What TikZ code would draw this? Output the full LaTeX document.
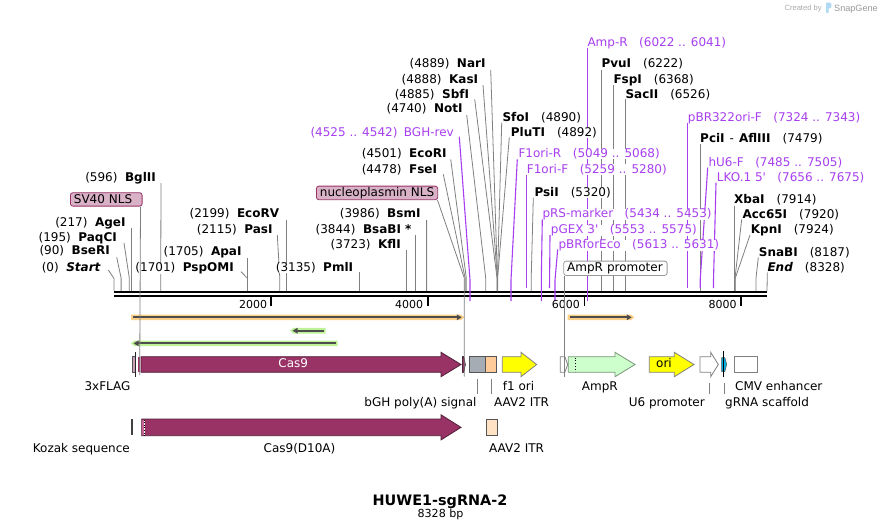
\documentclass[tikz,border=0pt]{standalone}
\usepackage{fontspec}
\setmainfont{DejaVu Sans}[ItalicFont={DejaVu Sans Oblique},BoldItalicFont={DejaVu Sans Bold Oblique}]
\newfontfamily\lsans{Liberation Sans}
\usetikzlibrary{arrows.meta}
\pgfdeclarelayer{bgwhite}
\pgfdeclarelayer{lines}
\pgfsetlayers{bgwhite,lines,main}
\definecolor{enzline}{RGB}{128,128,128}
\definecolor{primer}{RGB}{167,63,240}
\definecolor{nlsfill}{RGB}{217,178,199}
\definecolor{nlsdraw}{RGB}{153,51,102}
\definecolor{casfill}{RGB}{153,51,102}
\definecolor{casdraw}{RGB}{80,30,55}
\definecolor{caslight}{RGB}{200,100,150}
\definecolor{flagfill}{RGB}{201,160,184}
\definecolor{bghfill}{RGB}{166,172,179}
\definecolor{itrfill}{RGB}{255,204,153}
\definecolor{itrfillb}{RGB}{255,226,196}
\definecolor{orifill}{RGB}{255,255,0}
\definecolor{ampfill}{RGB}{204,255,204}
\definecolor{ampdraw}{RGB}{120,150,120}
\definecolor{gfill}{RGB}{0,176,230}
\definecolor{orfo}{RGB}{251,207,135}
\definecolor{orfg}{RGB}{190,242,150}
\definecolor{orfline}{RGB}{77,77,77}
\definecolor{featdraw}{RGB}{85,85,85}
\definecolor{snap}{RGB}{170,170,170}
\definecolor{snapblue}{RGB}{175,218,242}
\newcommand\featarrow[7]{\filldraw[#1] (#2,#5) -- (#3,#5) -- (#3,#5-#7) -- (#4,{(#5+#6)/2}) -- (#3,#6+#7) -- (#3,#6) -- (#2,#6) -- cycle;}
\newcommand\orfR[4]{%
 \fill[#1] (#2,#4-2.8) -- (#3-3.5,#4-2.8) -- (#3,#4) -- (#3-3.5,#4+2.8) -- (#2,#4+2.8) -- cycle;
 \draw[orfline, line width=1.7pt, -{Triangle[length=5pt,width=5.5pt]}] (#2+2,#4) -- (#3-2.5,#4);}
\newcommand\orfL[4]{%
 \fill[#1] (#3,#4-2.8) -- (#2+3.5,#4-2.8) -- (#2,#4) -- (#2+3.5,#4+2.8) -- (#3,#4+2.8) -- cycle;
 \draw[orfline, line width=1.7pt, -{Triangle[length=5pt,width=5.5pt]}] (#3-2,#4) -- (#2+2.5,#4);}
\tikzset{
 lab/.style={font=\fontsize{12}{14}\selectfont, inner sep=0pt},
 elab/.style={lab, fill=white},
 plab/.style={lab, fill=white, text=primer},
 enz/.style={draw=enzline, line width=0.8pt},
 prim/.style={draw=primer, line width=1.1pt},
 conn/.style={draw=enzline, line width=0.8pt},
 lbox/.style={lab, draw=nlsdraw, fill=nlsfill, rounded corners=2.5pt, inner xsep=3.5pt, inner ysep=0pt, align=left, anchor=north west, line width=0.8pt},
 tick/.style={font=\fontsize{11}{13}\selectfont, inner sep=0pt, anchor=base east},
}
\begin{document}
\begin{tikzpicture}[x=1pt,y=-1pt]
\useasboundingbox (0,0) rectangle (882,530);
\begin{pgfonlayer}{bgwhite}
\fill[white] (0,0) rectangle (882,530);
\end{pgfonlayer}

% ---------- enzyme labels (number left) ----------
\node[elab,anchor=base east] (start) at (101,271.7) {(0)\hspace{7.5pt}\textbf{\textit{Start}}};
\node[elab,anchor=base east] (bseri) at (110,254.4) {(90)\hspace{7.5pt}\textbf{BseRI}};
\node[elab,anchor=base east] (paqci) at (117,241.1) {(195)\hspace{7.5pt}\textbf{PaqCI}};
\node[elab,anchor=base east] (agei) at (125.7,226.4) {(217)\hspace{7.5pt}\textbf{AgeI}};
\node[elab,anchor=base east] (bglii) at (156,181.1) {(596)\hspace{7.5pt}\textbf{BglII}};
\node[elab,anchor=base east] (pspomi) at (234,271.7) {(1701)\hspace{7.5pt}\textbf{PspOMI}};
\node[elab,anchor=base east] (apai) at (241.7,255.1) {(1705)\hspace{7.5pt}\textbf{ApaI}};
\node[elab,anchor=base east] (pasi) at (272.7,233.7) {(2115)\hspace{7.5pt}\textbf{PasI}};
\node[elab,anchor=base east] (ecorv) at (279.3,217.7) {(2199)\hspace{7.5pt}\textbf{EcoRV}};
\node[elab,anchor=base east] (pmli) at (353.3,271.7) {(3135)\hspace{7.5pt}\textbf{PmlI}};
\node[elab,anchor=base east] (kfli) at (401,248.7) {(3723)\hspace{7.5pt}\textbf{KflI}};
\node[elab,anchor=base east] (bsabi) at (411.7,233.7) {(3844)\hspace{7.5pt}\textbf{BsaBI *}};
\node[elab,anchor=base east] (bsmi) at (420.7,217.7) {(3986)\hspace{7.5pt}\textbf{BsmI}};
\node[elab,anchor=base east] (fsei) at (437.3,173.4) {(4478)\hspace{7.5pt}\textbf{FseI}};
\node[elab,anchor=base east] (ecori) at (446.7,157.7) {(4501)\hspace{7.5pt}\textbf{EcoRI}};
\node[elab,anchor=base east] (noti) at (462.7,112.7) {(4740)\hspace{7.5pt}\textbf{NotI}};
\node[elab,anchor=base east] (sbfi) at (469.3,98.7) {(4885)\hspace{7.5pt}\textbf{SbfI}};
\node[elab,anchor=base east] (kasi) at (478.3,83.4) {(4888)\hspace{7.5pt}\textbf{KasI}};
\node[elab,anchor=base east] (nari) at (485.7,67.7) {(4889)\hspace{7.5pt}\textbf{NarI}};
% ---------- enzyme labels (name left) ----------
\node[elab,anchor=base west] (sfoi) at (502.3,121.1) {\textbf{SfoI}\hspace{12pt}(4890)};
\node[elab,anchor=base west] (pluti) at (510.7,136.1) {\textbf{PluTI}\hspace{12pt}(4892)};
\node[elab,anchor=base west] (psii) at (534.3,196.1) {\textbf{PsiI}\hspace{12pt}(5320)};
\node[elab,anchor=base west] (pvui) at (601.3,67.7) {\textbf{PvuI}\hspace{12pt}(6222)};
\node[elab,anchor=base west] (fspi) at (613.3,83.4) {\textbf{FspI}\hspace{12pt}(6368)};
\node[elab,anchor=base west] (sacii) at (625.3,98.7) {\textbf{SacII}\hspace{12pt}(6526)};
\node[elab,anchor=base west] (pcii) at (700,142.7) {\textbf{PciI}\hspace{5pt}-\hspace{5pt}\textbf{AflIII}\hspace{12pt}(7479)};
\node[elab,anchor=base west] (xbai) at (734,203.4) {\textbf{XbaI}\hspace{12pt}(7914)};
\node[elab,anchor=base west] (acc) at (742.3,218.4) {\textbf{Acc65I}\hspace{12pt}(7920)};
\node[elab,anchor=base west] (kpni) at (750.7,233.4) {\textbf{KpnI}\hspace{12pt}(7924)};
\node[elab,anchor=base west] (snabi) at (758.7,256.1) {\textbf{SnaBI}\hspace{12pt}(8187)};
\node[elab,anchor=base west] (endl) at (767.3,271.1) {\textbf{\textit{End}}\hspace{12pt}(8328)};
% ---------- primer labels ----------
\node[plab,anchor=base east] (bghrev) at (454,136.1) {(4525 .. 4542)\hspace{6.5pt}BGH-rev};
\node[plab,anchor=base west] (f1r) at (518.3,157.7) {F1ori-R\hspace{11.5pt}(5049 .. 5068)};
\node[plab,anchor=base west] (f1f) at (526.7,173.4) {F1ori-F\hspace{11.5pt}(5259 .. 5280)};
\node[plab,anchor=base west] (prs) at (542.3,217.7) {pRS-marker\hspace{11.5pt}(5434 .. 5453)};
\node[plab,anchor=base west] (pgex) at (550.7,233.7) {pGEX 3\textquotesingle\hspace{11.5pt}(5553 .. 5575)};
\node[plab,anchor=base west] (pbrfor) at (558.3,248.7) {pBRforEco\hspace{11.5pt}(5613 .. 5631)};
\node[plab,anchor=base west] (ampr) at (587.3,46.1) {Amp-R\hspace{11.5pt}(6022 .. 6041)};
\node[plab,anchor=base west] (pbr322) at (687.7,121.1) {pBR322ori-F\hspace{11.5pt}(7324 .. 7343)};
\node[plab,anchor=base west] (hu6f) at (708.3,166.1) {hU6-F\hspace{11.5pt}(7485 .. 7505)};
\node[plab,anchor=base west] (lko) at (716.7,181.1) {LKO.1 5\textquotesingle\hspace{11.5pt}(7656 .. 7675)};

% ---------- feature boxes above ----------
\node[lbox, text width=64.7pt, minimum height=13.4pt] (sv40) at (70,192.3) {\mbox{SV40 NLS}};
\node[lbox, text width=114.3pt, minimum height=13.6pt] (nls) at (316,185.7) {\mbox{nucleoplasmin NLS}};
\node[lbox, draw=gray!80, fill=white, text width=96.4pt, minimum height=14.3pt] (amppro) at (563.3,260.7) {\mbox{AmpR promoter}};

% ---------- backbone, ticks, lines ----------
\begin{pgfonlayer}{lines}
\draw[line width=2.6pt] (114,292) -- (767,292);
\draw[line width=2.6pt] (114,295.8) -- (767,295.8);
\foreach \tx in {270.8,427.6,584.5,741.3} \draw[line width=1.8pt] (\tx,297) -- (\tx,305.5);
\draw[enz] (start.base east) ++(7.3,-1.7) -- (114,278.5) -- (114,291);
\draw[enz] (bseri.base east) ++(6.7,2.9) -- (121.1,278) -- (121.1,291);
\draw[enz] (paqci.base east) ++(7,1.9) -- (129.3,278) -- (129.3,291);
\draw[enz] (agei.base east) ++(5.3,1.6) -- (131,291);
\draw[enz] (bglii.base east) ++(5,1.9) -- (160.7,291);
\draw[enz] (pspomi.base east) ++(7,0) -- (247.4,278.3) -- (247.4,291);
\draw[enz] (apai.base east) ++(6,3.2) -- (247.7,291);
\draw[enz] (pasi.base east) ++(4.6,1.3) -- (279.8,278) -- (279.8,291);
\draw[enz] (ecorv.base east) ++(7.1,2.3) -- (286.4,291);
\draw[enz] (pmli.base east) ++(6.5,0.6) -- (359.8,291);
\draw[enz] (kfli.base east) ++(4.9,1.3) -- (405.9,291);
\draw[enz] (bsabi.base east) ++(3.7,1.3) -- (415.4,291);
\draw[enz] (bsmi.base east) ++(5.9,2.3) -- (426.6,291);
\draw[enz] (fsei.base east) ++(6,0.9) -- (465.1,278) -- (465.1,291);
\draw[enz] (ecori.base east) ++(4,1.6) -- (466.3,278) -- (466.3,291);
\draw[enz] (noti.base east) ++(4,2.3) -- (485.7,278) -- (485.7,291);
\draw[enz] (sbfi.base east) ++(5.4,0.6) -- (497,278) -- (497,291);
\draw[enz] (kasi.base east) ++(4.7,1.6) -- (497.3,278) -- (497.3,291);
\draw[enz] (nari.base east) ++(5,2.3) -- (497.4,278) -- (497.4,291);
\draw[enz] (sfoi.base west) ++(-0.6,1.6) -- (497.5,278) -- (497.5,291);
\draw[enz] (pluti.base west) ++(-1.4,1.2) -- (497.6,278) -- (497.6,291);
\draw[enz] (psii.base west) ++(-1,1.6) -- (531.2,278) -- (531.2,291);
\draw[enz] (pvui.base west) ++(0.2,2.3) -- (601.5,291);
\draw[enz] (fspi.base west) ++(0,1.6) -- (613.3,291);
\draw[enz] (sacii.base west) ++(0.2,0.6) -- (625.5,291);
\draw[enz] (pcii.base west) ++(0.4,1.6) -- (700.4,291);
\draw[enz] (xbai.base west) ++(0.4,2.3) -- (734.4,291);
\draw[enz] (acc.base west) ++(-0.6,0.9) -- (735,278) -- (735,291);
\draw[enz] (kpni.base west) ++(-0.7,1.6) -- (735.3,278) -- (735.3,291);
\draw[enz] (snabi.base west) ++(-0.4,1.2) -- (756,278) -- (756,291);
\draw[enz] (endl.base west) ++(0,1.2) -- (767,291);
% primers
\draw[prim] (bghrev.base east) ++(5.3,0.6) -- (470,280) -- (470,301);
\draw[prim] (f1r.base west) ++(-1,1.6) -- (511,280) -- (511,301);
\draw[prim] (f1f.base west) ++(0,1.6) -- (526.7,288);
\draw[prim] (prs.base west) ++(0,1.6) -- (541.3,280) -- (541.3,301);
\draw[prim] (pgex.base west) ++(-0.7,1.3) -- (549.5,288);
\draw[prim] (pbrfor.base west) ++(-0.6,0.6) -- (555,280) -- (555,301);
\draw[prim] (ampr.base west) ++(0,1.6) -- (587.3,301);
\draw[prim] (pbr322.base west) ++(0,1.6) -- (687.7,288);
\draw[prim] (hu6f.base west) ++(-0.6,1.6) -- (700.2,280) -- (700.2,288);
\draw[prim] (lko.base west) ++(-0.7,1.6) -- (713.5,280) -- (713.5,288);
\end{pgfonlayer}

% tick labels
\node[tick] (t2) at (267.3,308) {2000};
\node[tick] (t4) at (423.3,308) {4000};
\node[tick] (t6) at (580,308) {6000};
\node[tick] (t8) at (736.8,308) {8000};

% ---------- ORFs ----------
\orfR{orfo}{131}{464.3}{317.3}
\orfR{orfo}{567.7}{634.3}{317.3}
\orfL{orfg}{290}{325.7}{330.7}
\orfL{orfg}{131}{337.7}{343.3}

% ---------- features row 1 ----------
\filldraw[fill=flagfill, draw=featdraw, line width=0.7pt] (132.3,356.7) rectangle (135.3,372.3);
\fill[casfill] (137.8,356.7) rectangle (140.2,371.7);
\draw[line width=0.9pt, black!85] (135.9,352.3) -- (135.9,376.7);
\featarrow{fill=casfill,draw=casdraw,line width=0.8pt}{141}{441}{461}{356.7}{372.3}{4.4}
\node[lab, text=white, anchor=base] (cas9) at (293.3,367.7) {Cas9};
\filldraw[fill=casfill, draw=black, line width=0.6pt] (462.3,356.7) -- (463.8,356.7) -- (465.3,364.5) -- (463.8,372.3) -- (462.3,372.3) -- cycle;
\filldraw[fill=bghfill, draw=featdraw, line width=0.8pt] (469.3,356.7) rectangle (485.7,372.3);
\filldraw[fill=itrfill, draw=featdraw, line width=0.8pt] (485.7,356.7) rectangle (496.7,372.3);
\featarrow{fill=orifill,draw=gray,line width=0.8pt}{502.3}{521}{536.7}{356.7}{372.3}{4.4}
\filldraw[fill=white, draw=gray, line width=0.8pt] (560.3,356.7) -- (564.8,356.7) -- (567.7,364.5) -- (564.8,372.3) -- (560.3,372.3) -- cycle;
\featarrow{fill=ampfill,draw=ampdraw,line width=0.8pt}{568.3}{615}{635}{356.7}{372.3}{4.4}
\draw[dotted, line width=0.8pt] (575.7,357.5) -- (575.7,371.5);
\featarrow{fill=orifill,draw=gray,line width=0.8pt}{649.3}{674.3}{694}{356.7}{372.3}{4.4}
\node[lab, anchor=base] (orit) at (664,367.7) {ori};
\featarrow{fill=white,draw=gray,line width=0.8pt}{700}{710.7}{718.3}{356.7}{372.3}{4.4}
\filldraw[fill=gfill, draw=featdraw, line width=0.5pt] (721.7,357.5) -- (724.8,357.5) -- (726.7,364.5) -- (724.8,371.5) -- (721.7,371.5) -- cycle;
\draw[line width=0.9pt] (723.9,350.5) -- (723.9,376.7);
\filldraw[fill=white, draw=gray, line width=0.8pt] (734.3,356.7) rectangle (757.7,372.3);

% ---------- features row 2 ----------
\draw[line width=1.6pt, black!75] (132,419) -- (132,435.3);
\featarrow{fill=casfill,draw=casdraw,line width=0.8pt}{141.7}{441}{461}{419}{435.7}{4.2}
\fill[caslight] (142.2,419.5) rectangle (143.6,435.2);
\draw[white, line width=0.8pt] (144.3,419.5) -- (144.3,435.2);
\draw[dotted, line width=0.6pt] (144.3,419.5) -- (144.3,435.2);
\filldraw[fill=itrfillb, draw=featdraw, line width=0.8pt] (486,419) rectangle (497.7,435.7);

% ---------- connectors from boxes to features ----------
\draw[conn] (sv40.south east) ++(-2,0) -- (139.7,375);
\draw[conn] (nls.south east) ++(-0.6,0) -- (464.3,278) -- (464.3,376.7);
\draw[conn] (amppro.south west) ++(1,0) -- (564.3,376.7);
\draw[conn] (477.3,379) -- (477.3,394.3);
\draw[conn] (491,379) -- (491,394.3);
\draw[conn] (709.3,383.3) -- (709.3,394.3);
\draw[conn] (724.3,383.3) -- (724.3,394.3);

% ---------- feature labels ----------
\node[lab, anchor=base east] (l3xflag) at (130.7,390.4) {3xFLAG};
\node[lab, anchor=base] (lf1) at (518.5,390.4) {f1 ori};
\node[lab, anchor=base] (lampr) at (599.8,390.4) {AmpR};
\node[lab, anchor=base west] (lcmv) at (735,390.4) {CMV enhancer};
\node[lab, anchor=base east] (lbgh) at (476.7,406.1) {bGH poly(A) signal};
\node[lab, anchor=base west] (litr) at (494,406.1) {AAV2 ITR};
\node[lab, anchor=base east] (lu6) at (705,406.1) {U6 promoter};
\node[lab, anchor=base west] (lgrna) at (725,406.1) {gRNA scaffold};
\node[lab, anchor=base east] (lkozak) at (130,452.7) {Kozak sequence};
\node[lab, anchor=base] (ld10a) at (299.5,452.7) {Cas9(D10A)};
\node[lab, anchor=base west] (litr2) at (489,452.7) {AAV2 ITR};

% ---------- title ----------
\node[font=\fontsize{14.4}{17}\selectfont\bfseries, inner sep=0pt, anchor=base] (title) at (440,505.3) {HUWE1-sgRNA-2};
\node[font=\fontsize{11.1}{13}\selectfont, inner sep=0pt, anchor=base] (bp) at (440.5,517.4) {8328 bp};

% ---------- credit ----------
\node[font=\lsans\fontsize{7.6}{9}\selectfont, text=snap, inner sep=0pt, anchor=base west] (cb) at (784.3,10.4) {Created by};
\fill[snapblue, rounded corners=1pt] (826,2.5) rectangle (828.6,13.2);
\fill[snapblue, rounded corners=1.2pt] (826,2.5) rectangle (831.3,8.3);
\node[font=\lsans\fontsize{9.1}{11}\selectfont, text=snap!90!black, inner sep=0pt, anchor=base west] (sg) at (834,11) {SnapGene};
\end{tikzpicture}
\end{document}
